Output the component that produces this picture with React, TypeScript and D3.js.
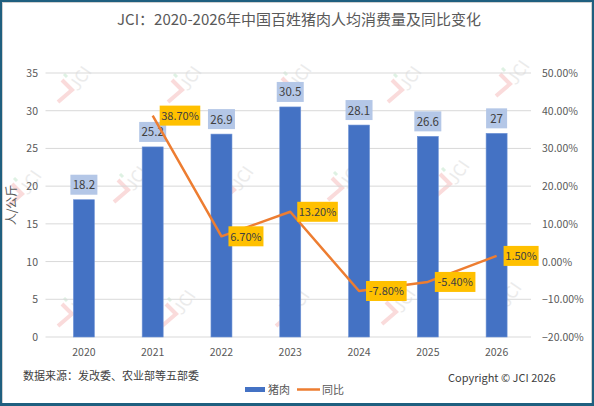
import * as d3 from "d3"

const years = ["2020", "2021", "2022", "2023", "2024", "2025", "2026"]
const pork = [18.2, 25.2, 26.9, 30.5, 28.1, 26.6, 27]
const yoy: (number | null)[] = [null, 38.7, 6.7, 13.2, -7.8, -5.4, 1.5]
const leftTicks = [0, 5, 10, 15, 20, 25, 30, 35]
const rightTicks = [-20, -10, 0, 10, 20, 30, 40, 50]

const title = "JCI：2020-2026年中国百姓猪肉人均消费量及同比变化"
const source = "数据来源：发改委、农业部等五部委"
const copyright = "Copyright © JCI 2026"

const W = 594
const H = 406
const FONT = "'Noto Sans CJK SC', 'Noto Sans', sans-serif"

// watermark spots (approximate)
const marks = [
  [68, 86], [178, 86], [288, 84], [398, 86], [506, 80],
  [18, 190], [124, 186], [230, 186], [338, 184], [446, 180],
  [68, 310], [172, 310], [286, 310], [392, 308], [498, 302],
]

function Watermark({ x, y }: { x: number; y: number }) {
  return (
    <g transform={`translate(${x},${y})`} opacity={0.5}>
      <path d="M-6,-6 L4,4 L-10,16" fill="none" stroke="#f6b8b8" strokeWidth={4} />
      <path d="M-4,-12 L-1,-9" stroke="#bfe5c8" strokeWidth={3} />
      <text
        transform="translate(10,6) rotate(-55)"
        fontFamily={FONT}
        fontSize={17}
        fill="#d8d8d8"
      >
        JCI
      </text>
    </g>
  )
}

export default function App() {
  const margin = { top: 73, right: 63, bottom: 69, left: 49.5 }
  const innerW = W - margin.left - margin.right
  const y0 = H - margin.bottom

  const x = d3.scaleBand().domain(years).range([margin.left, margin.left + innerW])
  const yL = d3.scaleLinear().domain([0, 35]).range([y0, margin.top])
  const yR = d3.scaleLinear().domain([-20, 50]).range([y0, margin.top])
  const bw = 21
  const cx = (yr: string) => (x(yr) || 0) + x.bandwidth() / 2

  const linePts = years
    .map((yr, i) => ({ yr, v: yoy[i] }))
    .filter((d) => d.v !== null) as { yr: string; v: number }[]
  const line = d3
    .line<{ yr: string; v: number }>()
    .x((d) => cx(d.yr))
    .y((d) => yR(d.v))

  return (
    <svg
      width={W}
      height={H}
      style={{ position: "absolute", left: 0, top: 0, background: "#fff" }}
      fontFamily={FONT}
    >
      <rect x={0} y={0} width={W} height={H} fill="#fff" />

      {marks.map(([mx, my], i) => (
        <Watermark key={i} x={mx} y={my} />
      ))}

      <text x={W / 2 + 2} y={25} textAnchor="middle" fontSize={15} fill="#595959">
        {title}
      </text>

      {/* gridlines */}
      {leftTicks.map((t) => (
        <line key={t} x1={margin.left - 4} x2={margin.left + innerW} y1={yL(t)} y2={yL(t)} stroke="#d9d9d9" strokeWidth={1} />
      ))}

      {/* left axis labels */}
      {leftTicks.map((t) => (
        <text key={t} x={38} y={yL(t) + 4} textAnchor="end" fontSize={10.5} fill="#595959">
          {t}
        </text>
      ))}

      {/* right axis labels */}
      {rightTicks.map((t) => (
        <text key={t} x={542} y={yR(t) + 4} fontSize={10.5} fill="#595959">
          {d3.format(".2f")(t) + "%"}
        </text>
      ))}

      <text transform={`translate(16,${(margin.top + y0) / 2}) rotate(-90)`} textAnchor="middle" fontSize={12} fill="#595959">
        人/公斤
      </text>

      {/* bars */}
      {years.map((yr, i) => (
        <rect
          key={yr}
          x={cx(yr) - bw / 2}
          y={yL(pork[i])}
          width={bw}
          height={y0 - yL(pork[i])}
          fill="#4472c4"
          stroke="#6f93d6"
          strokeWidth={0.6}
        />
      ))}

      {/* x labels */}
      {years.map((yr) => (
        <text key={yr} x={cx(yr)} y={356} textAnchor="middle" fontSize={10.5} fill="#595959">
          {yr}
        </text>
      ))}

      {/* bar value labels */}
      {years.map((yr, i) => {
        const s = String(pork[i])
        const bwid = s.length > 2 ? 27 : 21
        const top = yL(pork[i]) - 25
        return (
          <g key={yr}>
            <rect x={cx(yr) - bwid / 2} y={top} width={bwid} height={20} fill="#b4c7e7" />
            <text x={cx(yr)} y={top + 14.5} textAnchor="middle" fontSize={11.5} fill="#404040">
              {s}
            </text>
          </g>
        )
      })}

      {/* yoy line */}
      <path d={line(linePts) || ""} fill="none" stroke="#ed7d31" strokeWidth={2.5} strokeLinejoin="round" />

      {/* yoy labels */}
      {linePts.map((d) => {
        const s = d.v.toFixed(2) + "%"
        const w = s.length * 5.6 + 7
        const lx = cx(d.yr) + 7
        const ly = yR(d.v)
        return (
          <g key={d.yr}>
            <rect x={lx} y={ly - 10} width={w} height={20} fill="#ffc000" />
            <text x={lx + w / 2} y={ly + 4.5} textAnchor="middle" fontSize={11} fill="#404040">
              {s}
            </text>
          </g>
        )
      })}

      {/* footer */}
      <text x={23} y={380} fontSize={11} fill="#404040">
        {source}
      </text>
      <text x={448} y={382} fontSize={11} fill="#404040">
        {copyright}
      </text>

      {/* legend */}
      <rect x={245} y={387} width={20} height={5} fill="#4472c4" />
      <text x={268} y={394} fontSize={11} fill="#595959">猪肉</text>
      <line x1={297} x2={320} y1={389.5} y2={389.5} stroke="#ed7d31" strokeWidth={2.5} />
      <text x={322} y={394} fontSize={11} fill="#595959">同比</text>

      {/* frame */}
      <rect x={2.5} y={2.5} width={W - 5} height={H - 5} fill="none" stroke="#d0d0d0" strokeWidth={1} />
      <rect x={1} y={1} width={W - 2} height={H - 2.5} fill="none" stroke="#1f5f7f" strokeWidth={2} />
      <line x1={0} x2={W} y1={H - 1.5} y2={H - 1.5} stroke="#1f5f7f" strokeWidth={3} />
    </svg>
  )
}
